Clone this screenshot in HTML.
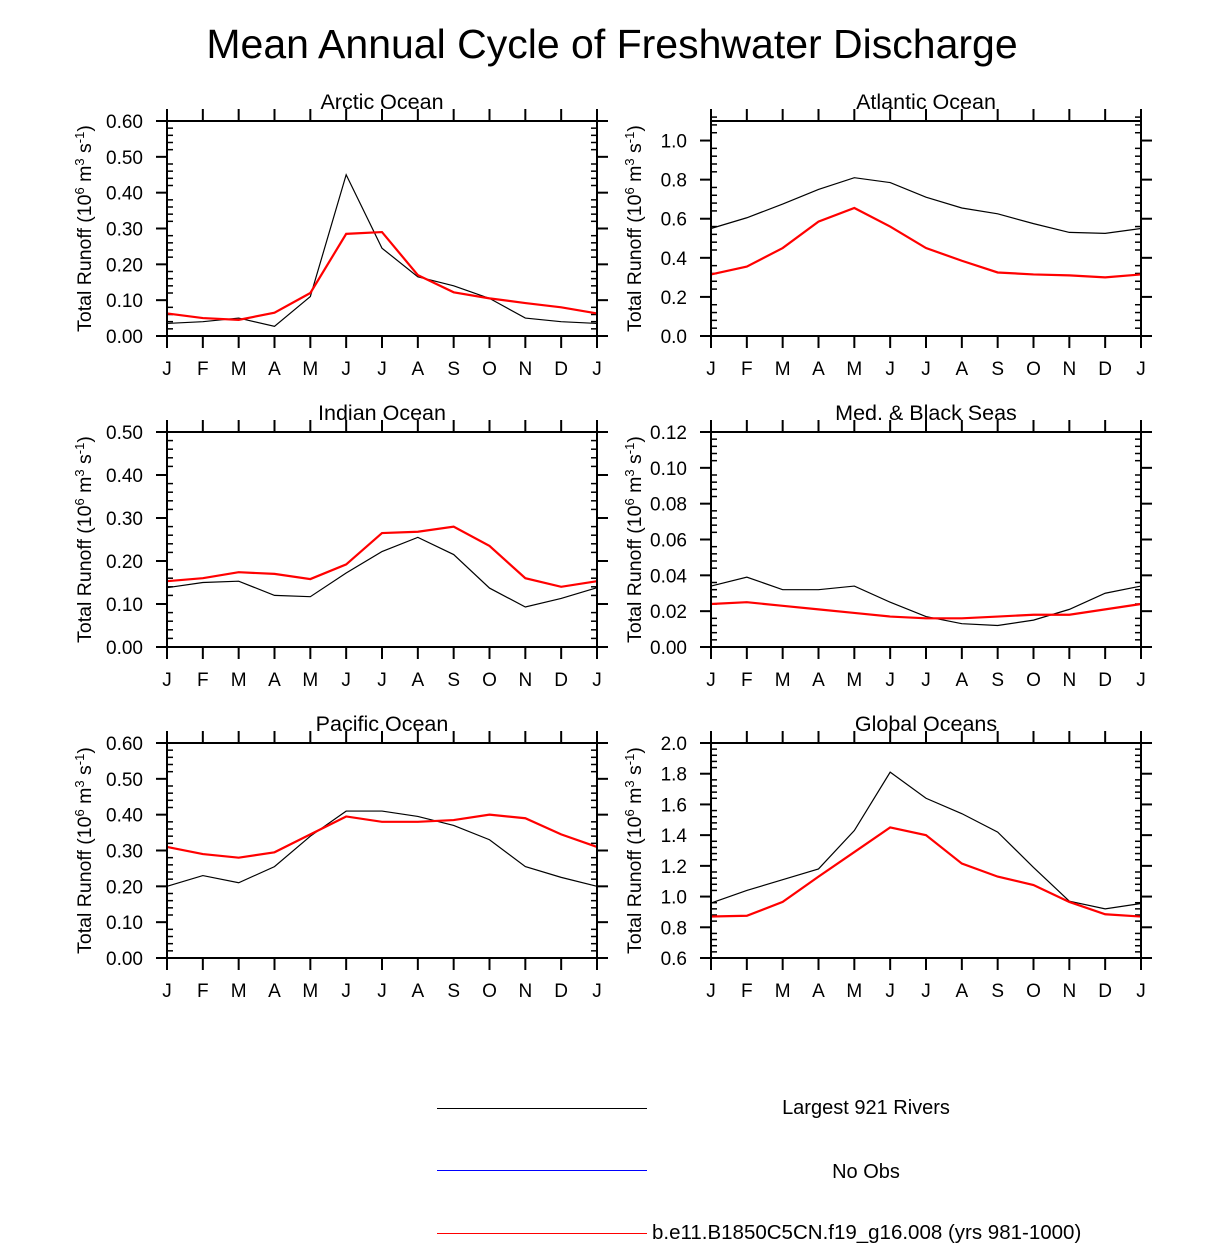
<!DOCTYPE html>
<html><head><meta charset="utf-8"><style>
body{margin:0;background:#fff}
svg{display:block;font-family:"Liberation Sans",sans-serif}
</style></head><body>
<svg id="chart" width="1224" height="1243" viewBox="0 0 1224 1243" xmlns="http://www.w3.org/2000/svg">
<text x="612" y="58" font-size="41" text-anchor="middle">Mean Annual Cycle of Freshwater Discharge</text>
<g>
<line x1="437" x2="647" y1="1108.5" y2="1108.5" stroke="#000" stroke-width="1"/>
<text x="866" y="1114" font-size="20" text-anchor="middle">Largest 921 Rivers</text>
<line x1="437" x2="647" y1="1170.5" y2="1170.5" stroke="#00f" stroke-width="1"/>
<text x="866" y="1178" font-size="20" text-anchor="middle">No Obs</text>
<line x1="437" x2="647" y1="1233.5" y2="1233.5" stroke="#f00" stroke-width="1"/>
<text x="652" y="1239" font-size="20.5">b.e11.B1850C5CN.f19_g16.008 (yrs 981-1000)</text>
</g>
</svg>
<script>
const months = ["J","F","M","A","M","J","J","A","S","O","N","D","J"];
const panelTitles = ["Arctic Ocean","Atlantic Ocean","Indian Ocean","Med. & Black Seas","Pacific Ocean","Global Oceans"];
const arcticRivers = [0.035,0.04,0.05,0.027,0.11,0.45,0.245,0.165,0.14,0.105,0.05,0.04,0.035];
const arcticModel  = [0.063,0.05,0.045,0.065,0.12,0.285,0.29,0.17,0.122,0.105,0.092,0.08,0.063];
const atlanticRivers = [0.55,0.605,0.675,0.75,0.81,0.785,0.71,0.655,0.625,0.575,0.53,0.525,0.55];
const atlanticModel  = [0.315,0.355,0.45,0.585,0.655,0.56,0.45,0.385,0.325,0.315,0.31,0.30,0.315];
const indianRivers = [0.138,0.15,0.153,0.12,0.117,0.172,0.222,0.255,0.215,0.137,0.093,0.113,0.138];
const indianModel  = [0.153,0.16,0.174,0.17,0.158,0.192,0.265,0.268,0.28,0.235,0.16,0.14,0.153];
const medRivers = [0.034,0.039,0.032,0.032,0.034,0.025,0.017,0.013,0.012,0.015,0.021,0.030,0.034];
const medModel  = [0.024,0.025,0.023,0.021,0.019,0.017,0.016,0.016,0.017,0.018,0.018,0.021,0.024];
const pacificRivers = [0.20,0.23,0.21,0.255,0.34,0.41,0.41,0.395,0.37,0.33,0.255,0.225,0.20];
const pacificModel  = [0.31,0.29,0.28,0.295,0.345,0.395,0.38,0.38,0.385,0.40,0.39,0.345,0.31];
const globalRivers = [0.958,1.04,1.11,1.18,1.43,1.81,1.64,1.54,1.42,1.19,0.97,0.92,0.955];
const globalModel  = [0.87,0.875,0.965,1.13,1.29,1.45,1.40,1.215,1.13,1.075,0.965,0.885,0.87];
const yMins = [0,0,0,0,0,0.6];
const yMaxs = [0.6,1.1,0.5,0.12,0.6,2.0];
const yMajors = [0.1,0.2,0.1,0.02,0.1,0.2];
const yDecimals = [2,1,2,2,2,1];
const riversSeries = [arcticRivers,atlanticRivers,indianRivers,medRivers,pacificRivers,globalRivers];
const modelSeries = [arcticModel,atlanticModel,indianModel,medModel,pacificModel,globalModel];

const NS="http://www.w3.org/2000/svg";
const svg=document.getElementById('chart');
function mk(tag,attrs,parent){const e=document.createElementNS(NS,tag);for(const k in attrs)e.setAttribute(k,attrs[k]);parent.appendChild(e);return e;}
const lefts=[167,711], tops=[121,432,743], W=430, H=215;
for(let p=0;p<6;p++){
  const x0=lefts[p%2], y0=tops[Math.floor(p/2)];
  const g=mk('g',{},svg);
  
  
  const xs=i=>x0+i*W/12;
  const ys=v=>y0+H-(v-yMins[p])/(yMaxs[p]-yMins[p])*H;
  const t=mk('text',{x:x0+W/2,y:y0-12,'font-size':21.5,'text-anchor':'middle'},g);
  t.textContent=panelTitles[p];
  
  
  const minor=yMajors[p]/5;
  const nMin=Math.round((yMaxs[p]-yMins[p])/minor);
  for(let k=0;k<=nMin;k++){
    const v=yMins[p]+k*minor, y=ys(v);
    if(k%5===0){
      mk('line',{x1:x0-11,x2:x0,y1:y,y2:y,stroke:'#000','stroke-width':2},g);
      mk('line',{x1:x0+W,x2:x0+W+11,y1:y,y2:y,stroke:'#000','stroke-width':2},g);
      const lb=mk('text',{x:x0-24,y:y+7,'font-size':19,'text-anchor':'end'},g);
      lb.textContent=v.toFixed(yDecimals[p]);
      
      
    } else {
      mk('line',{x1:x0,x2:x0+6,y1:y,y2:y,stroke:'#000','stroke-width':1.5},g);
      mk('line',{x1:x0+W-6,x2:x0+W,y1:y,y2:y,stroke:'#000','stroke-width':1.5},g);
    }
  }
  months.forEach((m,i)=>{
    const x=xs(i);
    mk('line',{x1:x,x2:x,y1:y0-12,y2:y0,stroke:'#000','stroke-width':2},g);
    mk('line',{x1:x,x2:x,y1:y0+H,y2:y0+H+12,stroke:'#000','stroke-width':2},g);
    const lb=mk('text',{x:x,y:y0+H+39,'font-size':19,'text-anchor':'middle'},g);
    lb.textContent=m;
    
    
  });
  const yt=mk('text',{x:0,y:0,'font-size':19.5,'text-anchor':'middle',transform:`translate(${p%2?x0-70:x0-76},${y0+H/2}) rotate(-90)`},g);
  yt.innerHTML='Total Runoff (10<tspan dy="-7" font-size="13">6</tspan><tspan dy="7"> m</tspan><tspan dy="-7" font-size="13">3</tspan><tspan dy="7"> s</tspan><tspan dy="-7" font-size="13">-1</tspan><tspan dy="7">)</tspan>';
  
  
  const pr=mk('polyline',{points:riversSeries[p].map((v,i)=>xs(i)+','+ys(v)).join(' '),fill:'none',stroke:'#000','stroke-width':1.2},g);
  
  
  const pm=mk('polyline',{points:modelSeries[p].map((v,i)=>xs(i)+','+ys(v)).join(' '),fill:'none',stroke:'#f00','stroke-width':2.2},g);
  
  
  const fr=mk('rect',{x:x0,y:y0,width:W,height:H,fill:'none',stroke:'#000','stroke-width':2},g);
  
  
}
</script>
</body></html>
